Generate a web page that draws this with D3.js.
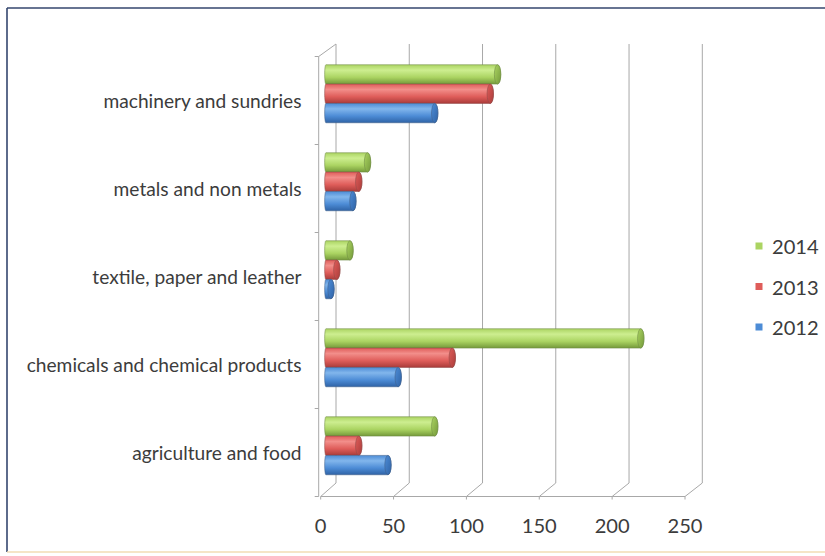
<!DOCTYPE html>
<html><head><meta charset="utf-8">
<script src="https://cdn.jsdelivr.net/npm/d3@7"></script>
<style>body{margin:0;background:#fff}svg{display:block}</style>
</head><body>
<svg id="chart" width="825" height="556"></svg>
<script>
const categories = ["machinery and sundries","metals and non metals","textile, paper and leather","chemicals and chemical products","agriculture and food"];
const seriesNames = ["2014","2013","2012"];
const values2014 = [118, 29, 17, 216, 75];
const values2013 = [113, 23, 8, 87, 23];
const values2012 = [75, 19, 4, 50, 43];
const xTicks = [0, 50, 100, 150, 200, 250];

const seriesValues = {"2014": values2014, "2013": values2013, "2012": values2012};
const colors = {
  "2014": {light:"#cdee90", mid:"#abd462", dark:"#74993a", line:"#6d8a45"},
  "2013": {light:"#f28e8a", mid:"#df5d5a", dark:"#aa3c3a", line:"#8f4a48"},
  "2012": {light:"#82b6ec", mid:"#4d8cd6", dark:"#2f63a6", line:"#3f5f8a"}
};

const svg = d3.select("#chart");
svg.append("rect").attr("width",825).attr("height",556).attr("fill","#fff");

// frame of the picture
svg.append("line").attr("x1",7).attr("y1",8).attr("x2",825).attr("y2",8).attr("stroke","#34466e").attr("stroke-width",1.6);
svg.append("line").attr("x1",7).attr("y1",8).attr("x2",7).attr("y2",552).attr("stroke","#34466e").attr("stroke-width",1.6);
svg.append("line").attr("x1",7).attr("y1",552).attr("x2",825).attr("y2",552).attr("stroke","#f2dcb4").attr("stroke-width",1.5);

// 3D geometry
const front = {left:320.7, right:685, top:56.5, bottom:496.5};
const depthX = 15.3, depthY = 13.5;
const xFront = d3.scaleLinear().domain([0,250]).range([front.left, front.right]);
const xBack = d3.scaleLinear().domain([0,250]).range([front.left+depthX, front.right+depthX+2]);
const xMid = d3.scaleLinear().domain([0,250]).range([front.left+depthX/2, front.right+depthX/2+1]);
const yCat = d3.scaleBand().domain(categories).range([front.top, front.bottom]).padding(0);
const ySer = d3.scaleBand().domain(seriesNames).range([15, 73]).padding(0);

const grid = svg.append("g").attr("stroke","#a8a8a8").attr("stroke-width",1).attr("fill","none");
xTicks.forEach(t => {
  grid.append("line").attr("x1",xBack(t)).attr("x2",xBack(t)).attr("y1",front.top-depthY+1).attr("y2",front.bottom-depthY);
  grid.append("line").attr("x1",xBack(t)).attr("y1",front.bottom-depthY).attr("x2",xFront(t)).attr("y2",front.bottom);
  grid.append("line").attr("x1",xFront(t)).attr("x2",xFront(t)).attr("y1",front.bottom).attr("y2",front.bottom+3);
});
grid.append("line").attr("x1",xFront(0)).attr("x2",xFront(250)).attr("y1",front.bottom).attr("y2",front.bottom);
grid.append("line").attr("x1",front.left-2).attr("x2",front.left-2).attr("y1",front.top).attr("y2",front.bottom);
grid.append("line").attr("x1",front.left-2).attr("y1",front.top).attr("x2",xBack(0)).attr("y2",front.top-depthY+1);
categories.concat([null]).forEach(c => {
  const y = c ? yCat(c) : front.bottom;
  grid.append("line").attr("x1",front.left-6).attr("x2",front.left-2).attr("y1",y).attr("y2",y);
});

// gradients
const defs = svg.append("defs");
seriesNames.forEach(s => {
  const g = defs.append("linearGradient").attr("id","g"+s).attr("x1",0).attr("y1",0).attr("x2",0).attr("y2",1);
  g.append("stop").attr("offset","0%").attr("stop-color",colors[s].mid);
  g.append("stop").attr("offset","28%").attr("stop-color",colors[s].light);
  g.append("stop").attr("offset","65%").attr("stop-color",colors[s].mid);
  g.append("stop").attr("offset","100%").attr("stop-color",colors[s].dark);
  const c = defs.append("linearGradient").attr("id","c"+s).attr("x1",0).attr("y1",0).attr("x2",1).attr("y2",1);
  c.append("stop").attr("offset","0%").attr("stop-color",colors[s].mid);
  c.append("stop").attr("offset","100%").attr("stop-color",colors[s].dark);
});

// bars (cylinders)
const bars = svg.append("g");
categories.forEach((cat,i) => {
  seriesNames.forEach(s => {
    const v = seriesValues[s][i];
    const h = ySer.bandwidth();
    const y0 = yCat(cat) + ySer(s) - depthY/2;
    const x0 = xMid(0) - 2.5;
    const x1 = xMid(v);
    const rx = 3.2;
    const cy = y0 + h/2;
    const path = `M${x0},${y0} L${x1-rx},${y0} A${rx},${h/2} 0 0 1 ${x1-rx},${y0+h} L${x0},${y0+h} A1.2,${h/2} 0 0 1 ${x0},${y0} Z`;
    bars.append("path").attr("d",path).attr("fill","url(#g"+s+")")
      .attr("stroke",colors[s].line).attr("stroke-width",0.8).attr("stroke-opacity",0.7);
    bars.append("ellipse").attr("cx",x1-rx).attr("cy",cy).attr("rx",rx).attr("ry",h/2)
      .attr("fill","url(#c"+s+")").attr("stroke",colors[s].line).attr("stroke-width",0.8).attr("stroke-opacity",0.7);
  });
});

const font = "Lato, 'Open Sans', sans-serif";
const labels = svg.append("g").attr("font-family",font).attr("fill","#3c3c3c");
const catText = labels.selectAll("text").data(categories).join("text")
  .attr("x",301.5).attr("y",d => yCat(d)+yCat.bandwidth()/2)
  .attr("text-anchor","end").attr("dominant-baseline","central")
  .attr("font-size",18).text(d=>d);
let maxW = 0;
catText.each(function(){ maxW = Math.max(maxW, this.getComputedTextLength()); });
const fs = 18 * 275 / maxW;
catText.attr("font-size",fs);

labels.selectAll("text.tick").data(xTicks).join("text").attr("class","tick")
  .attr("x",d=>xFront(d)).attr("y",525).attr("text-anchor","middle").attr("dominant-baseline","central")
  .attr("font-size",fs*1.05).text(d=>d);

const leg = svg.append("g").attr("font-family",font);
const legY = d3.scalePoint().domain(seriesNames).range([246,327]);
seriesNames.forEach(s => {
  leg.append("rect").attr("x",755.5).attr("y",legY(s)-3.5).attr("width",7).attr("height",7).attr("fill",colors[s].mid);
  leg.append("text").attr("x",772).attr("y",legY(s)).attr("dominant-baseline","central")
    .attr("font-size",fs*1.05).attr("fill","#3c3c3c").text(s);
});
</script>
</body></html>
